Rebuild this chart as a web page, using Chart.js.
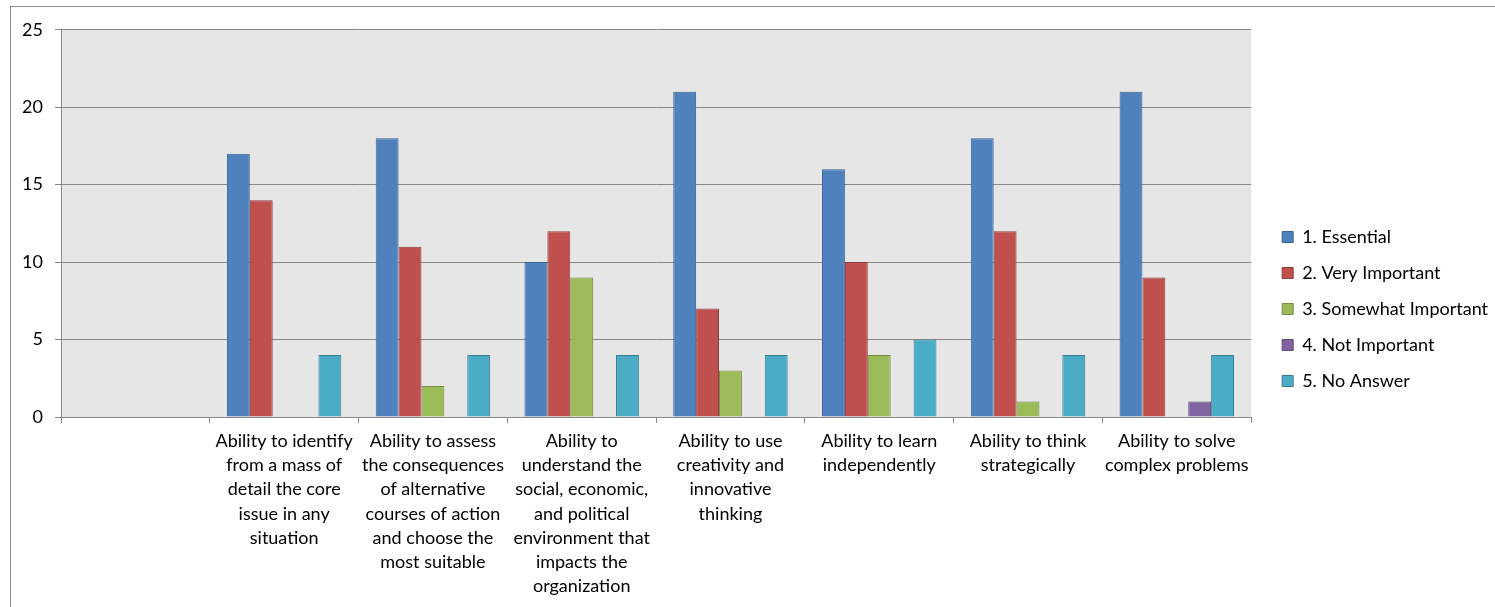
<!DOCTYPE html>
<html>
<head>
<meta charset="utf-8">
<title>Skills ratings</title>
<script src="https://cdn.jsdelivr.net/npm/chart.js@4/dist/chart.umd.min.js"></script>
<style>
  html, body { margin: 0; padding: 0; background: #fff; overflow: hidden; }
  #frame {
    position: absolute;
    left: 10px;
    top: 6px;
    width: 1500px;
    height: 620px;
    border: 1px solid #8c8c8c;
    box-sizing: border-box;
  }
  #chart { position: absolute; left: 0; top: 0; }
</style>
</head>
<body>
<div id="frame">
  <canvas id="chart" width="1485" height="600"></canvas>
</div>
<script>
const categories = [
  '',
  ['Ability to identify', 'from a mass of', 'detail the core', 'issue in any', 'situation'],
  ['Ability to assess', 'the consequences', 'of alternative', 'courses of action', 'and choose the', 'most suitable'],
  ['Ability to', 'understand the', 'social, economic,', 'and political', 'environment that', 'impacts the', 'organization'],
  ['Ability to use', 'creativity and', 'innovative', 'thinking'],
  ['Ability to learn', 'independently'],
  ['Ability to think', 'strategically'],
  ['Ability to solve', 'complex problems']
];

const essential         = [null, 17, 18, 10, 21, 16, 18, 21];
const veryImportant     = [null, 14, 11, 12,  7, 10, 12,  9];
const somewhatImportant = [null,  0,  2,  9,  3,  4,  1,  0];
const notImportant      = [null,  0,  0,  0,  0,  0,  0,  1];
const noAnswer          = [null,  4,  4,  4,  4,  5,  4,  4];

const yTicks = [0, 5, 10, 15, 20, 25];

const FONT = 'Lato, "Open Sans", sans-serif';

// grey fill behind the plot area
const plotBackground = {
  id: 'plotBackground',
  beforeDraw(chart) {
    const { ctx, chartArea: a } = chart;
    ctx.save();
    ctx.fillStyle = '#e6e6e6';
    ctx.fillRect(a.left, a.top, a.right - a.left, a.bottom - a.top);
    ctx.restore();
  }
};

// move the legend block a little right of the plot and slightly up
const legendShiftX = 13;
const legendShiftY = -9;
const legendNudge = {
  id: 'legendNudge',
  afterLayout(chart) {
    const lg = chart.legend;
    lg.left += legendShiftX;
    lg.right += legendShiftX;
    lg.top += legendShiftY;
    lg.bottom += legendShiftY;
  }
};

function series(label, data, fill, stroke) {
  return {
    label,
    data,
    backgroundColor: fill,
    borderColor: stroke,
    borderWidth: 1,
    borderSkipped: 'bottom'
  };
}

new Chart(document.getElementById('chart'), {
  type: 'bar',
  data: {
    labels: categories,
    datasets: [
      series('1. Essential', essential, '#4f81bd', '#3a6494'),
      series('2. Very Important', veryImportant, '#c0504d', '#8f3b39'),
      series('3. Somewhat Important', somewhatImportant, '#9bbb59', '#748d42'),
      series('4. Not Important', notImportant, '#8064a2', '#5f4a79'),
      series('5. No Answer', noAnswer, '#4bacc6', '#357f93')
    ]
  },
  options: {
    responsive: false,
    animation: false,
    events: [],
    layout: { padding: { top: 22, left: 0, right: 11, bottom: 0 } },
    datasets: {
      bar: { categoryPercentage: 5 / 6.5, barPercentage: 1 }
    },
    plugins: {
      tooltip: { enabled: false },
      legend: {
        position: 'right',
        align: 'center',
        labels: {
          boxWidth: 11,
          boxHeight: 11,
          padding: 18,
          color: '#000',
          font: { family: FONT, size: 18 }
        }
      }
    },
    scales: {
      x: {
        afterFit(scale) { scale.height = 190; },
        grid: {
          offset: true,
          drawOnChartArea: false,
          tickLength: 6,
          color: '#888'
        },
        border: { color: '#888' },
        ticks: {
          autoSkip: false,
          maxRotation: 0,
          minRotation: 0,
          padding: 6,
          color: '#000',
          font: { family: FONT, size: 18, lineHeight: 1.345 }
        }
      },
      y: {
        min: 0,
        max: 25,
        afterFit(scale) { scale.width = 50; },
        afterBuildTicks(scale) { scale.ticks = yTicks.map(v => ({ value: v })); },
        grid: { color: '#888', tickLength: 6 },
        border: { color: '#888' },
        ticks: {
          padding: 12,
          color: '#000',
          font: { family: FONT, size: 18 }
        }
      }
    }
  },
  plugins: [plotBackground, legendNudge]
});
</script>
</body>
</html>
